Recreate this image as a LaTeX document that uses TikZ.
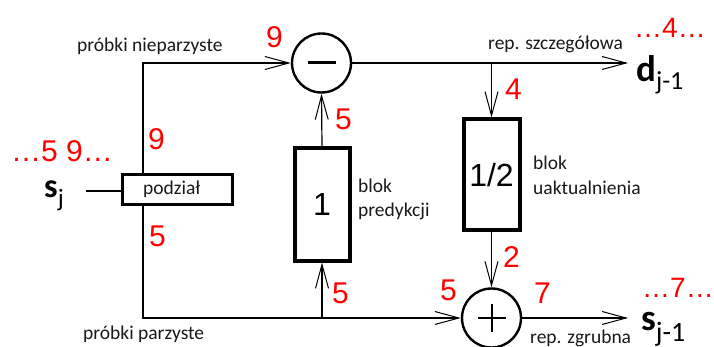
\documentclass[tikz,border=0pt]{standalone}
\usepackage{fontspec}
\setmainfont{Carlito}
\newfontfamily\arialf{Liberation Sans}
\usetikzlibrary{arrows.meta}
\tikzset{
  conn/.style={line width=1.2pt, draw=black},
  arr/.style={conn, -{Straight Barb[length=24pt,width=13pt,line width=1pt]}},
  opcirc/.style={circle, draw, line width=2.4pt, minimum size=59pt, inner sep=0pt, fill=white},
  blockbox/.style={rectangle, draw, line width=4pt, inner sep=0pt, fill=white, font=\arialf\fontsize{32}{32}\selectfont},
  lbl/.style={inner sep=0pt, anchor=base west, font=\fontsize{19.5}{24}\selectfont, text=black!90},
  num/.style={inner sep=0pt, anchor=base west, text=red, font=\arialf\fontsize{30}{30}\selectfont},
  sig/.style={inner sep=0pt, anchor=base west},
}
\newcommand{\subsc}[3]{\raisebox{-#1pt}{\fontsize{#2}{#2}\selectfont\mdseries #3}}
\begin{document}
\begin{tikzpicture}[x=1pt,y=-1pt]
\fill[white] (0,0) rectangle (714,347);
\useasboundingbox (0,0) rectangle (714,347);

% blocks
\node[opcirc] (minus) at (321.5,63) {};
\node[opcirc] (plus) at (491.5,318) {};
\node[blockbox, minimum width=55pt, minimum height=112pt] (pred) at (322,204.5) {1};
\node[blockbox, minimum width=56pt, minimum height=111pt] (upd) at (491.5,175) {1/2};
\node[rectangle, draw, line width=3.5pt, fill=white, minimum width=110pt, minimum height=30pt, inner sep=0pt] (split) at (177.5,189.5) {};

% operator signs
\draw[line width=3pt] ([xshift=-14pt]minus.center) -- ([xshift=14pt]minus.center);
\draw[line width=2pt] ([xshift=-14pt]plus.center) -- ([xshift=14pt]plus.center);
\draw[line width=2pt] ([yshift=-14pt]plus.center) -- ([yshift=14pt]plus.center);

% coordinates
\coordinate (oddc) at (143,63);
\coordinate (evenc) at (143,318);
\coordinate (dout) at (628,63);
\coordinate (sout) at (628,318);
\coordinate (br) at (491.5,63);
\coordinate (sin) at (86,191);

% connectors
\draw[arr] (split.north -| oddc) -- (oddc) -- (minus.west);
\draw[arr] (split.south -| evenc) -- (evenc) -- (plus.west);
\draw[arr] (evenc -| pred) -- (pred.south);
\draw[arr] (pred.north) -- (minus.south);
\draw[arr] (minus.east) -- (dout);
\draw[arr] (br) -- (upd.north);
\draw[arr] (upd.south) -- (plus.north);
\draw[arr] (plus.east) -- (sout);
\draw[conn] (sin) -- (sin -| split.west);

% labels
\node[lbl] (podz) at (143,195) {podział};
\node[lbl] (lodd) at (77,52) {próbki nieparzyste};
\node[lbl] (leven) at (83,339) {próbki parzyste};
\node[lbl] (ldet) at (488,50) {rep. szczegółowa};
\node[lbl] (lcoarse) at (530,343) {rep. zgrubna};
\node[lbl] (lpred1) at (358,193) {blok};
\node[lbl] (lpred2) at (358,217) {predykcji};
\node[lbl] (lupd1) at (533,170) {blok};
\node[lbl] (lupd2) at (533,195) {uaktualnienia};

% signals
\node[sig, font=\bfseries\fontsize{34}{34}\selectfont] (sj) at (44,198) {s\subsc{9}{25}{j}};
\node[sig, font=\bfseries\fontsize{37}{37}\selectfont] (dj) at (636,82) {d\subsc{8}{26}{j-1}};
\node[sig, font=\bfseries\fontsize{37}{37}\selectfont] (sj1) at (641,330) {s\subsc{11}{28}{j-1}};

% red numbers
\node[num] (n1) at (266,48) {9};
\node[num] (n2) at (148,150) {9};
\node[num] (n3) at (11,162) {…5 9…};
\node[num] (n4) at (149,247) {5};
\node[num] (n5) at (335,130) {5};
\node[num] (n6) at (332,303) {5};
\node[num] (n7) at (505,100) {4};
\node[num, font=\arialf\fontsize{28}{28}\selectfont] (n8) at (634,38) {…4…};
\node[num] (n9) at (503,267) {2};
\node[num] (n10) at (440,300) {5};
\node[num] (n11) at (534,303) {7};
\node[num, font=\arialf\fontsize{28}{28}\selectfont] (n12) at (642,297) {…7…};
\end{tikzpicture}
\end{document}
